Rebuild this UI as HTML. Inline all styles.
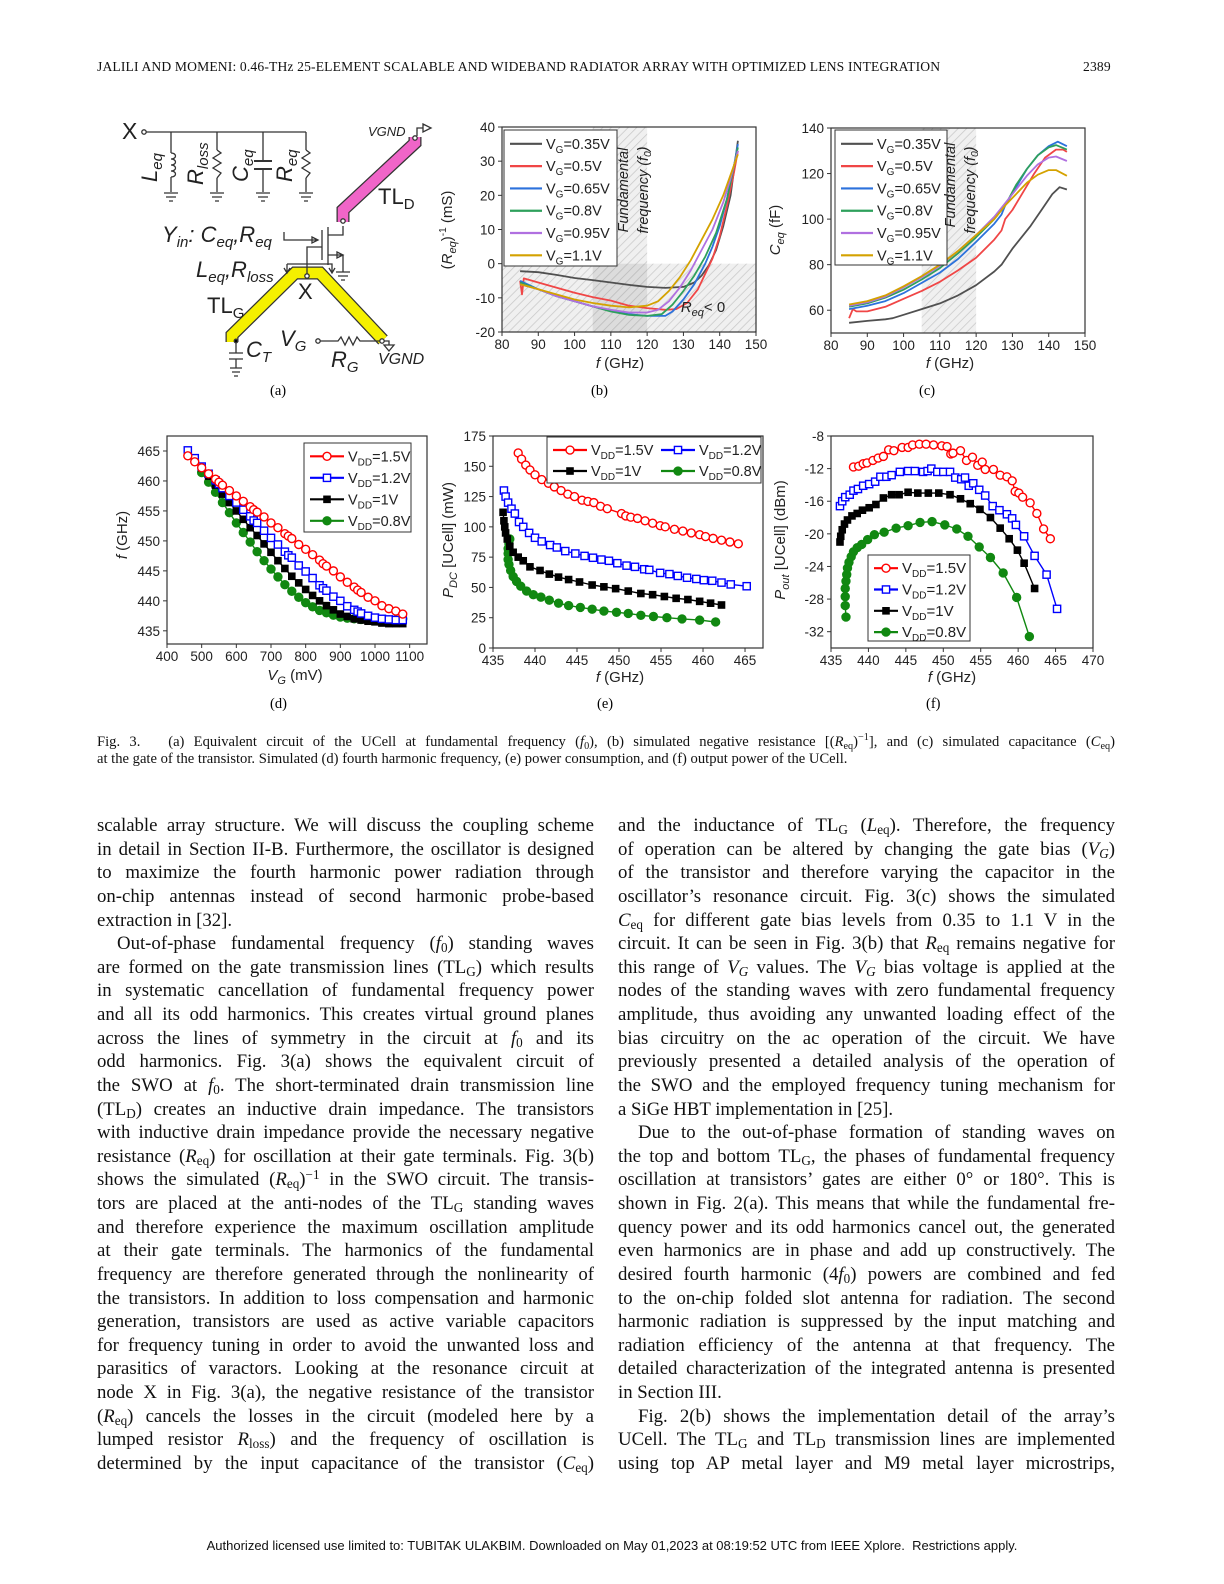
<!DOCTYPE html>
<html><head><meta charset="utf-8">
<style>
body{margin:0;background:#fff;}
#page{position:relative;width:1224px;height:1584px;overflow:hidden;background:#fff;font-family:"Liberation Serif",serif;color:#111;}
.hdr{position:absolute;top:59px;font-size:13.6px;letter-spacing:0.15px;}
.col{position:absolute;width:497px;font-size:18.8px;line-height:23.63px;}
.col div{text-align:justify;text-align-last:justify;height:23.63px;white-space:nowrap;}
.col div.last{text-align-last:left;}
.col div.ind{padding-left:20px;}
.cap{position:absolute;left:97px;width:1018px;font-size:14.6px;line-height:17px;}
.cap div{text-align:justify;text-align-last:justify;white-space:nowrap;}
.cap div.last{text-align-last:left;}
sub{font-size:70%;vertical-align:-3px;line-height:0;}
sup{font-size:70%;vertical-align:6px;line-height:0;}
svg text{font-family:"Liberation Sans",sans-serif;}
</style></head>
<body>
<div id="page">
<div class="hdr" style="left:97px">JALILI AND MOMENI: 0.46-THz 25-ELEMENT SCALABLE AND WIDEBAND RADIATOR ARRAY WITH OPTIMIZED LENS INTEGRATION</div>
<div class="hdr" style="left:1083px">2389</div>

<svg id="fig" width="1224" height="720" style="position:absolute;left:0;top:0">
<defs>
<pattern id="hatch" width="6" height="6" patternUnits="userSpaceOnUse" patternTransform="rotate(45)">
<rect width="6" height="6" fill="#f0f0f0"/><line x1="0" y1="0" x2="0" y2="6" stroke="#c8c8c8" stroke-width="1.5"/></pattern>
<pattern id="hatch2" width="6" height="6" patternUnits="userSpaceOnUse" patternTransform="rotate(45)">
<rect width="6" height="6" fill="#dcdcdc"/><line x1="0" y1="0" x2="0" y2="6" stroke="#b8b8b8" stroke-width="1.5"/></pattern>
</defs>
<g id="circuit" stroke="#333" fill="none" stroke-width="1.3">
<line x1="146" y1="132" x2="306" y2="132"/>
<circle cx="144" cy="132" r="2.2" fill="#fff"/>
<line x1="171" y1="132" x2="171" y2="192"/><line x1="217" y1="132" x2="217" y2="192"/>
<line x1="263" y1="132" x2="263" y2="192"/><line x1="306" y1="132" x2="306" y2="192"/>
<rect x="164" y="153" width="14" height="24" fill="#fff" stroke="none"/>
<path d="M171,153 c6,0 6,6 0,6 c6,0 6,6 0,6 c6,0 6,6 0,6 c6,0 6,6 0,6"/>
<rect x="210" y="150" width="14" height="28" fill="#fff" stroke="none"/>
<polyline points="217,150 221,153 213,158 221,163 213,168 221,173 217,178"/>
<rect x="299" y="150" width="14" height="28" fill="#fff" stroke="none"/>
<polyline points="306,150 310,153 302,158 310,163 302,168 310,173 306,178"/>
<rect x="255" y="160" width="16" height="10" fill="#fff" stroke="none"/>
<line x1="254" y1="161" x2="272" y2="161" stroke-width="2"/><line x1="254" y1="169" x2="272" y2="169" stroke-width="2"/>
<g stroke-width="1.2">
<path d="M164,193h14M166,197h10M169,201h4M210,193h14M212,197h10M215,201h4M256,193h14M258,197h10M261,201h4M299,193h14M301,197h10M304,201h4"/>
</g>
<path d="M343,222 L343,210 L415,143 L415,137" stroke="#333" stroke-width="13" stroke-linejoin="miter"/>
<path d="M343,222 L343,210 L415,143 L415,137" stroke="#f065c8" stroke-width="10.5" stroke-linejoin="miter"/>
<circle cx="343" cy="221" r="2.2" fill="#fff"/><circle cx="415" cy="138" r="2.2" fill="#fff"/>
<path d="M417,136 V128 H423 M423,124 L431,128 L423,132 Z"/>
<path d="M232,342 L232,335 L295,273 L320,273 L383,340" stroke="#333" stroke-width="13" stroke-linejoin="miter"/>
<path d="M232,342 L232,335 L295,273 L320,273 L383,340" stroke="#f5f000" stroke-width="10.5" stroke-linejoin="miter"/>
<circle cx="307" cy="276" r="2.2" fill="#fff"/><circle cx="382" cy="341" r="2.2" fill="#fff"/>
<circle cx="236" cy="341" r="1.8" fill="#000"/>
<path d="M236,342 V353 M229,353h14 M229,359h14 M236,359V368 M230,368h12M232,372h8M234,376h4"/>
<path d="M307,274 V247 H322 M322,230V260 M328,227 V265 M328,235 H343 V226 M328,255 H343 V272 M337,252 l6,3 l-6,3z"/>
<path d="M284,232 V240 H318 M312,237 l6,3 l-6,3z"/>
<path d="M287,264 H332 V272 M287,264 V272 M284,268 l3,5 l3,-5 M329,268 l3,5 l3,-5"/>
<path d="M336,272h14M338,276h10M341,280h4"/>
<circle cx="318" cy="341" r="2.2" fill="#fff"/>
<polyline points="320,341 338,341 341,337 345,345 349,337 353,345 357,337 360,341 380,341"/>
<path d="M384,341 h5 v4 M384,345 h10 l-5,6z"/>
</g>
<g fill="#222" font-size="22">
<text x="122" y="139" font-size="23">X</text>
<text transform="translate(157,182) rotate(-90)" font-style="italic">L<tspan font-size="15" dy="5">eq</tspan></text>
<text transform="translate(203,185) rotate(-90)" font-style="italic">R<tspan font-size="15" dy="5">loss</tspan></text>
<text transform="translate(248,182) rotate(-90)" font-style="italic">C<tspan font-size="15" dy="5">eq</tspan></text>
<text transform="translate(292,182) rotate(-90)" font-style="italic">R<tspan font-size="15" dy="5">eq</tspan></text>
<text x="368" y="136" font-size="13" font-style="italic">VGND</text>
<text x="378" y="204">TL<tspan font-size="15" dy="5">D</tspan></text>
<text x="162" y="242" font-style="italic">Y<tspan font-size="15" dy="5">in</tspan><tspan dy="-5">: C</tspan><tspan font-size="15" dy="5">eq</tspan><tspan dy="-5">,R</tspan><tspan font-size="15" dy="5">eq</tspan></text>
<text x="196" y="277" font-style="italic">L<tspan font-size="15" dy="5">eq</tspan><tspan dy="-5">,R</tspan><tspan font-size="15" dy="5">loss</tspan></text>
<text x="298" y="299">X</text>
<text x="207" y="313">TL<tspan font-size="15" dy="5">G</tspan></text>
<text x="246" y="357" font-style="italic">C<tspan font-size="15" dy="5">T</tspan></text>
<text x="280" y="346" font-style="italic">V<tspan font-size="15" dy="5">G</tspan></text>
<text x="331" y="367" font-style="italic">R<tspan font-size="15" dy="5">G</tspan></text>
<text x="378" y="364" font-size="16" font-style="italic">VGND</text>
</g>
<g font-size="14.5">
<text x="270" y="395" style="font-family:'Liberation Serif',serif">(a)</text>
<text x="591" y="395" style="font-family:'Liberation Serif',serif">(b)</text>
<text x="919" y="395" style="font-family:'Liberation Serif',serif">(c)</text>
<text x="270" y="708" style="font-family:'Liberation Serif',serif">(d)</text>
<text x="597" y="708" style="font-family:'Liberation Serif',serif">(e)</text>
<text x="926" y="708" style="font-family:'Liberation Serif',serif">(f)</text>
</g>
<g id="charts"></g>
</svg>

<div class="cap" style="top:734px">
<div>Fig. 3.&nbsp;&nbsp;&nbsp;(a) Equivalent circuit of the UCell at fundamental frequency (<i>f</i><sub>0</sub>), (b) simulated negative resistance [(<i>R</i><sub>eq</sub>)<sup>−1</sup>], and (c) simulated capacitance (<i>C</i><sub>eq</sub>)</div>
<div class="last">at the gate of the transistor. Simulated (d) fourth harmonic frequency, (e) power consumption, and (f) output power of the UCell.</div>
</div>

<div class="col" style="left:97px;top:814px">
<div>scalable array structure. We will discuss the coupling scheme</div>
<div>in detail in Section II-B. Furthermore, the oscillator is designed</div>
<div>to maximize the fourth harmonic power radiation through</div>
<div>on-chip antennas instead of second harmonic probe-based</div>
<div class="last">extraction in [32].</div>
<div class="ind">Out-of-phase fundamental frequency (<i>f</i><sub>0</sub>) standing waves</div>
<div>are formed on the gate transmission lines (TL<sub>G</sub>) which results</div>
<div>in systematic cancellation of fundamental frequency power</div>
<div>and all its odd harmonics. This creates virtual ground planes</div>
<div>across the lines of symmetry in the circuit at <i>f</i><sub>0</sub> and its</div>
<div>odd harmonics. Fig. 3(a) shows the equivalent circuit of</div>
<div>the SWO at <i>f</i><sub>0</sub>. The short-terminated drain transmission line</div>
<div>(TL<sub>D</sub>) creates an inductive drain impedance. The transistors</div>
<div>with inductive drain impedance provide the necessary negative</div>
<div>resistance (<i>R</i><sub>eq</sub>) for oscillation at their gate terminals. Fig. 3(b)</div>
<div>shows the simulated (<i>R</i><sub>eq</sub>)<sup>−1</sup> in the SWO circuit. The transis-</div>
<div>tors are placed at the anti-nodes of the TL<sub>G</sub> standing waves</div>
<div>and therefore experience the maximum oscillation amplitude</div>
<div>at their gate terminals. The harmonics of the fundamental</div>
<div>frequency are therefore generated through the nonlinearity of</div>
<div>the transistors. In addition to loss compensation and harmonic</div>
<div>generation, transistors are used as active variable capacitors</div>
<div>for frequency tuning in order to avoid the unwanted loss and</div>
<div>parasitics of varactors. Looking at the resonance circuit at</div>
<div>node X in Fig. 3(a), the negative resistance of the transistor</div>
<div>(<i>R</i><sub>eq</sub>) cancels the losses in the circuit (modeled here by a</div>
<div>lumped resistor <i>R</i><sub>loss</sub>) and the frequency of oscillation is</div>
<div>determined by the input capacitance of the transistor (<i>C</i><sub>eq</sub>)</div>
</div>

<div class="col" style="left:618px;top:814px">
<div>and the inductance of TL<sub>G</sub> (<i>L</i><sub>eq</sub>). Therefore, the frequency</div>
<div>of operation can be altered by changing the gate bias (<i>V<sub>G</sub></i>)</div>
<div>of the transistor and therefore varying the capacitor in the</div>
<div>oscillator’s resonance circuit. Fig. 3(c) shows the simulated</div>
<div><i>C</i><sub>eq</sub> for different gate bias levels from 0.35 to 1.1 V in the</div>
<div>circuit. It can be seen in Fig. 3(b) that <i>R</i><sub>eq</sub> remains negative for</div>
<div>this range of <i>V<sub>G</sub></i> values. The <i>V<sub>G</sub></i> bias voltage is applied at the</div>
<div>nodes of the standing waves with zero fundamental frequency</div>
<div>amplitude, thus avoiding any unwanted loading effect of the</div>
<div>bias circuitry on the ac operation of the circuit. We have</div>
<div>previously presented a detailed analysis of the operation of</div>
<div>the SWO and the employed frequency tuning mechanism for</div>
<div class="last">a SiGe HBT implementation in [25].</div>
<div class="ind">Due to the out-of-phase formation of standing waves on</div>
<div>the top and bottom TL<sub>G</sub>, the phases of fundamental frequency</div>
<div>oscillation at transistors’ gates are either 0° or 180°. This is</div>
<div>shown in Fig. 2(a). This means that while the fundamental fre-</div>
<div>quency power and its odd harmonics cancel out, the generated</div>
<div>even harmonics are in phase and add up constructively. The</div>
<div>desired fourth harmonic (4<i>f</i><sub>0</sub>) powers are combined and fed</div>
<div>to the on-chip folded slot antenna for radiation. The second</div>
<div>harmonic radiation is suppressed by the input matching and</div>
<div>radiation efficiency of the antenna at that frequency. The</div>
<div>detailed characterization of the integrated antenna is presented</div>
<div class="last">in Section III.</div>
<div class="ind">Fig. 2(b) shows the implementation detail of the array’s</div>
<div>UCell. The TL<sub>G</sub> and TL<sub>D</sub> transmission lines are implemented</div>
<div>using top AP metal layer and M9 metal layer microstrips,</div>
</div>

<div style="position:absolute;top:1538px;left:0;width:1224px;text-align:center;font-family:'Liberation Sans',sans-serif;font-size:13px;">Authorized licensed use limited to: TUBITAK ULAKBIM. Downloaded on May 01,2023 at 08:19:52 UTC from IEEE Xplore.&nbsp; Restrictions apply.</div>
</div>

<script>
// ---------- data: chart (b) ----------
const bX035=[85,90,95,100,105,110,115,120,125,130,133,135,137,139,141,143,145];
const bY035=[-2.2,-2.5,-3.3,-4.2,-4.8,-5.5,-6.2,-6.8,-7.1,-6.8,-5.5,-3.5,-0.5,4,11,20,36];
const bX050=[85,85.5,86,90,95,100,105,110,115,120,125,128,131,134,136,138,140,142,144,145];
const bY050=[-5,-9,-4.3,-5.5,-7,-8.5,-9.8,-10.8,-12.3,-13,-13.5,-13.3,-11.5,-7.5,-3,1.5,8,17,27,33];
const bX065=[85,90,95,100,105,110,115,120,125,127,130,133,136,138,140,142,144,145];
const bY065=[-5,-7.5,-9.5,-11,-12.5,-13.8,-14.8,-15.3,-15.3,-14,-10.5,-6,0,5,11,19,29,35];
const bX080=[85,90,95,100,105,110,115,120,124,127,130,133,136,139,142,145];
const bY080=[-5.5,-7.5,-9.5,-11,-12.5,-14,-15,-15.3,-14.8,-12,-8,-3.5,2,9,19,34];
const bX095=[85,90,95,100,105,110,115,120,123,126,129,132,135,138,141,143,145];
const bY095=[-6,-7.5,-9.5,-11,-12.5,-13.5,-14.3,-14.3,-13.5,-11,-7,-2,4,10,18,25,33];
const bX110=[85,90,95,100,105,110,115,120,123,126,129,132,135,138,141,143,145];
const bY110=[-6,-7.5,-9,-10.5,-11.5,-12.3,-12.8,-12.3,-11,-8,-4,1,7,13,20,26,32];
const bXTicks=[80,90,100,110,120,130,140,150];
const bYTicks=[-20,-10,0,10,20,30,40];
// ---------- data: chart (c) ----------
const cX035=[85,90,95,97,100,105,110,115,120,125,127,130,135,138,141,143,145];
const cY035=[54.5,55.3,56,56.5,58,60.5,63,66.5,71,77,80,87,97,104,111,114,113];
const cX050=[85,86,87,90,95,100,105,110,115,120,125,127,128,130,133,136,139,142,144,145];
const cY050=[56.5,60.5,59.5,59.5,61.5,65,68.5,72.5,77.5,83,91,95,100,104,112,120,127,130.5,130.5,129.5];
const cX065=[85,90,95,100,105,110,115,120,125,127,128,131,134,137,140,142.5,145];
const cY065=[60.5,62,64,67.5,72,76.5,82.5,90,98,102,106,114,122,128,132,134,132];
const cX080=[85,90,95,100,105,110,115,120,125,128,131,134,137,140,142,145];
const cY080=[61.5,63,65.5,69,73.5,78.5,85,92,100,106,115,122,128,131.5,132.5,130.5];
const cX095=[85,90,95,100,105,110,115,120,125,128,131,134,137,140,142,145];
const cY095=[62,63.5,66,70,74.5,79.5,86,93,101,107,113,119,124,127,127.5,125.5];
const cX110=[85,90,95,100,105,110,115,120,125,128,131,134,137,140,142,145];
const cY110=[62.5,64,66.5,70.5,75,80,86,93,100,106,111,116,119.5,121.5,121.5,119];
const cXTicks=[80,90,100,110,120,130,140,150];
const cYTicks=[60,80,100,120,140];
// ---------- data: chart (d) ----------
const dX15=[460,480,500,520,540,550,560,580,600,620,640,650,660,680,700,720,740,750,760,780,800,820,840,850,860,880,900,920,940,950,960,980,1000,1020,1040,1060,1080];
const dY15=[464.2,463.2,462.2,461.2,460.3,459.8,459.3,458.4,457.5,456.6,455.7,455.2,454.8,454,453,452.2,451.2,450.8,450.4,449.4,448.6,447.7,446.8,446.2,445.8,445,444,443.1,442.3,441.8,441.4,440.6,440,439.2,438.7,438.3,437.8];
const dX12=dX15;
const dY12=[465.1,463.8,462.4,461.2,460.1,459.5,458.8,457.5,456.4,455.2,454.1,453.4,453,451.7,450.5,449.4,448.2,447.6,447.2,445.9,444.9,443.8,442.6,442.1,441.7,440.7,440,439.1,438.5,438.2,437.9,437.5,437.2,437,436.9,436.8,436.8];
const dX10=[500,520,540,560,580,600,620,640,660,680,700,720,740,760,780,800,820,840,860,880,900,920,940,960,980,1000,1020,1040,1060,1080];
const dY10=[462.2,460.8,459.3,457.8,456.4,455,453.6,452.2,450.9,449.5,448.1,446.7,445.4,444.1,443,441.9,440.9,440,439.2,438.5,437.8,437.4,437,436.8,436.6,436.5,436.3,436.2,436.2,436.2];
const dX08=dX10;
const dY08=[461.4,459.8,458.1,456.4,454.7,453,451.4,449.8,448.2,446.7,445.3,444,442.7,441.6,440.6,439.7,439,438.4,438,437.6,437.3,437.1,437,436.9,436.8,436.7,436.7,436.7,436.8,437];
const dXTicks=[400,500,600,700,800,900,1000,1100];
const dYTicks=[435,440,445,450,455,460,465];
// ---------- data: chart (e) ----------
const eX15=[438,438.4,438.9,439.4,440,440.8,441.6,442.3,443.1,443.9,444.7,445.6,446.3,447,447.8,448.6,450.3,450.8,451.4,452.2,453.1,454,454.9,455.5,456.6,457.6,458.6,459.6,460.3,461.2,462.2,463.2,464.2];
const eY15=[161,156,151,147,143,139,136,133,130,127,125,122,121,120,117,115,111,109,108,107,105,103,101,100,98,96.5,95,93.5,92,90.5,89,87.5,86];
const eX12=[436.3,436.5,436.8,437.2,437.6,438.1,438.6,439.3,440,440.8,441.8,442.6,443.6,444.8,445.9,446.9,447.9,448.8,449.8,450.9,451.9,453,453.6,454.9,456,457,458.1,459.2,460.1,461.1,462.2,463.3,465.2];
const eY12=[130,125,120,115,111,104,100,95,91,88,85,83,80,78,76,74.5,73,72,70,68,67,65,64.5,62,61,59.5,58,57,56,55.5,54,52.5,51];
const eX10=[436.2,436.3,436.4,436.5,436.7,437,437.4,438,438.6,439.4,440.6,441.7,442.8,444,445.3,446.8,448.2,449.6,451.1,452.6,454,455.4,456.8,458.2,459.6,460.9,462.2];
const eY10=[112,105,100,95,90,84,79,75,72,67,64,61,58.5,56.5,54.5,52,50.5,49,47,45,44,42.5,41,40,38.5,37,35.5];
const eX08=[437,436.9,436.8,436.8,436.8,436.9,437.1,437.4,437.8,438.3,439,439.8,440.7,441.7,442.8,444,445.4,446.8,448.2,449.7,451.1,452.6,454.1,455.7,457.5,459.6,461.5];
const eY08=[90,86,82,78,73,69,64,59,55,51,47,44,42,39.5,37,35,33.5,32,30.5,29.5,28.5,27,26,25,24,23,21.5];
const eXTicks=[435,440,445,450,455,460,465];
const eYTicks=[0,25,50,75,100,125,150,175];
// ---------- data: chart (f) ----------
const fX15=[438,438.7,439.3,439.8,440.6,441.3,442,442.7,443.4,444.5,445.3,445.9,446.8,447.7,448.7,449.8,450.5,451,451.3,452.3,453.1,453.9,454.6,455.2,455.6,456.7,457.6,458.5,459.2,459.6,460.1,460.6,461.6,462.5,463.4,464.3];
const fY15=[-11.8,-11.7,-11.4,-11.3,-11,-10.7,-10.5,-9.7,-9.8,-9.4,-9.4,-9.1,-9,-9,-9.1,-9.2,-9.3,-10.2,-10.1,-9.8,-11,-10.6,-11.6,-11.2,-12.1,-12.1,-12.8,-13,-13.5,-14.8,-15,-15.5,-16.2,-17.5,-19.4,-20.6];
const fX12=[436.2,436.5,436.9,437.5,438,438.6,439.3,440.1,440.9,441.6,442.4,443.1,444.2,445.3,446.2,447.3,447.9,448.4,449.2,450,450.9,451.6,452.4,452.9,453.4,454,454.8,455.6,456.6,457.5,458.5,459.2,459.7,460.8,462.2,463.8,465.2];
const fY12=[-16.6,-16,-15.5,-15.2,-14.7,-14.5,-14.1,-13.9,-13.6,-13,-13,-12.8,-12.4,-12.3,-12.3,-12.4,-12.3,-12,-12.4,-12.4,-12.4,-13.1,-13.3,-13.1,-14.1,-13.8,-14.6,-15.3,-16.6,-17.1,-17.6,-18.1,-18.9,-20.3,-22.7,-25,-29.2];
const fX10=[436.2,436.3,436.5,436.8,437.2,437.8,438.5,439.2,440.1,441,442,443.1,444.1,445.3,446.6,448,449.4,450.9,452.3,453.6,454.9,456.3,457.6,458.8,459.9,460.8,462.2];
const fY10=[-21,-20.3,-19.5,-18.8,-18.3,-17.8,-17.5,-17.1,-16.8,-16.4,-15.6,-15.2,-15.2,-14.9,-15,-15,-15,-15.2,-15.7,-16.3,-17,-18,-19.3,-20.6,-22,-23.6,-26.7];
const fX08=[437,436.9,436.9,436.9,437,437.1,437.2,437.4,437.7,438,438.5,439.1,439.9,440.8,442.1,443.7,445.3,446.9,448.5,450.2,451.8,453.3,454.8,456.3,458,459.8,461.5];
const fY08=[-30.2,-28.8,-27.7,-26.7,-25.8,-25,-24.2,-23.5,-22.8,-22.2,-21.7,-21.3,-20.7,-20.1,-19.8,-19.3,-19,-18.6,-18.5,-18.9,-19.4,-20.3,-21.6,-22.9,-24.8,-27.8,-32.6];
const fXTicks=[435,440,445,450,455,460,465,470];
const fYTicks=[-32,-28,-24,-20,-16,-12,-8];

const NS='http://www.w3.org/2000/svg';
const root=document.getElementById('charts');
function mk(tag,attrs,parent){const e=document.createElementNS(NS,tag);for(const k in attrs)e.setAttribute(k,attrs[k]);(parent||root).appendChild(e);return e;}

function makeChart(o){
  const g=mk('g',{});
  
  
  const sx=v=>o.px0+(v-o.xmin)/(o.xmax-o.xmin)*(o.px1-o.px0);
  const sy=v=>o.py1-(v-o.ymin)/(o.ymax-o.ymin)*(o.py1-o.py0);
  o.sx=sx;o.sy=sy;o.g=g;
  if(o.bg)o.bg(o);
  mk('rect',{x:o.px0,y:o.py0,width:o.px1-o.px0,height:o.py1-o.py0,fill:'none',stroke:'#333','stroke-width':1.2},g);
  o.xticks.forEach(t=>{const x=sx(t);
    mk('line',{x1:x,y1:o.py1,x2:x,y2:o.py1+4,stroke:'#333'},g);
    const tx=mk('text',{x:x,y:o.py1+17,'font-size':13.5,'text-anchor':'middle',fill:'#222'},g);
    
    
    tx.textContent=t;});
  o.yticks.forEach(t=>{const y=sy(t);
    mk('line',{x1:o.px0-4,y1:y,x2:o.px0,y2:y,stroke:'#333'},g);
    const ty=mk('text',{x:o.px0-7,y:y+5,'font-size':13.5,'text-anchor':'end',fill:'#222'},g);
    
    
    ty.textContent=t;});
  return o;
}
function series(o,xs,ys,color,marker,w,name){
  const pts=xs.map((x,i)=>o.sx(x).toFixed(1)+','+o.sy(ys[i]).toFixed(1)).join(' ');
  const pl=mk('polyline',{points:pts,fill:'none',stroke:color,'stroke-width':w||2,'stroke-linejoin':'round'},o.g);
  
  
  if(marker){xs.forEach((x,i)=>{drawMarker(o.g,o.sx(x),o.sy(ys[i]),color,marker);});}
}
function drawMarker(g,x,y,c,m){
  let e;
  if(m==='oc')e=mk('circle',{cx:x,cy:y,r:4,fill:'#fff',stroke:c,'stroke-width':1.4},g);
  else if(m==='fc')e=mk('circle',{cx:x,cy:y,r:4.2,fill:c,stroke:c},g);
  else if(m==='os')e=mk('rect',{x:x-3.6,y:y-3.6,width:7.2,height:7.2,fill:'#fff',stroke:c,'stroke-width':1.4},g);
  else e=mk('rect',{x:x-3.8,y:y-3.8,width:7.6,height:7.6,fill:c},g);
  
  
}
function label(o,x,y,html,rot,size){
  const t=mk('text',{x:0,y:0,'font-size':size||15,'text-anchor':'middle',fill:'#222',transform:`translate(${x},${y})`+(rot?' rotate(-90)':'')},o.g||root);
  t.innerHTML=html;
  
  
  return t;
}
function legend(o,x,y,w,h,items,rowH,colW){
  const lg=mk('g',{},o.g);
  
  
  mk('rect',{x:x,y:y,width:w,height:h,fill:'#fff',stroke:'#333','stroke-width':1},lg);
  items.forEach((it,i)=>{
    const col=it.col||0,row=it.row!==undefined?it.row:i;
    const lx=x+6+col*(colW||0),ly=y+rowH*0.62+row*rowH;
    mk('line',{x1:lx,y1:ly,x2:lx+it.len,y2:ly,stroke:it.c,'stroke-width':it.w||2.2},lg);
    if(it.m)drawMarker(lg,lx+it.len/2,ly,it.c,it.m);
    const t=mk('text',{x:lx+it.len+4,y:ly+5,'font-size':it.fs||14.5,fill:'#222'},lg);
    
    
    t.innerHTML=it.t;
  });
}
const C6={g:'#505050',r:'#f04646',b:'#2c72dc',gr:'#2ea05c',p:'#b070e0',y:'#d4a200'};
const vg=v=>`V<tspan font-size="10" dy="4">G</tspan><tspan dy="-4">=${v}V</tspan>`;
const vdd=v=>`V<tspan font-size="10" dy="4">DD</tspan><tspan dy="-4">=${v}V</tspan>`;

const B=makeChart({name:'chart-b-inverse-resistance',px0:502,px1:756,py0:127,py1:332,xmin:80,xmax:150,ymin:-20,ymax:40,xticks:bXTicks,yticks:bYTicks,
 bg:o=>{const x0=o.sx(80),x1=o.sx(150),y0=o.sy(0),y1=o.sy(-20),f0=o.sx(105),f1=o.sx(120),t=o.sy(40);
  mk('rect',{x:x0,y:y0,width:x1-x0,height:y1-y0,fill:'url(#hatch)'},o.g);
  mk('rect',{x:f0,y:t,width:f1-f0,height:y0-t,fill:'url(#hatch)'},o.g);
  mk('rect',{x:f0,y:y0,width:f1-f0,height:y1-y0,fill:'url(#hatch2)'},o.g);}});
series(B,bX035,bY035,C6.g,null,1.8,'series-vg-0.35');
series(B,bX050,bY050,C6.r,null,1.8,'series-vg-0.5');
series(B,bX065,bY065,C6.b,null,1.8,'series-vg-0.65');
series(B,bX080,bY080,C6.gr,null,1.8,'series-vg-0.8');
series(B,bX095,bY095,C6.p,null,1.8,'series-vg-0.95');
series(B,bX110,bY110,C6.y,null,1.8,'series-vg-1.1');
legend(B,504,130,113,136,[{t:vg('0.35'),c:C6.g,len:32},{t:vg('0.5'),c:C6.r,len:32},{t:vg('0.65'),c:C6.b,len:32},{t:vg('0.8'),c:C6.gr,len:32},{t:vg('0.95'),c:C6.p,len:32},{t:vg('1.1'),c:C6.y,len:32}],22.3);
label(B,452,230,'(<tspan font-style="italic">R</tspan><tspan font-size="11" dy="4" font-style="italic">eq</tspan><tspan dy="-4">)</tspan><tspan font-size="10" dy="-6">-1</tspan><tspan dy="6"> (mS)</tspan>',true,15);
label(B,620,368,'<tspan font-style="italic">f</tspan> (GHz)',false,15);
label(B,628,190,'Fundamental',true,14.5).setAttribute('font-style','italic');
label(B,648,190,'frequency (f<tspan font-size="10" dy="3">0</tspan><tspan dy="-3">)</tspan>',true,14.5).setAttribute('font-style','italic');
label(B,703,312,'<tspan font-style="italic">R</tspan><tspan font-size="11" dy="4" font-style="italic">eq</tspan><tspan dy="-4">&lt; 0</tspan>',false,15);

const Cc=makeChart({name:'chart-c-capacitance',px0:831,px1:1085,py0:128,py1:333,xmin:80,xmax:150,ymin:50,ymax:140,xticks:cXTicks,yticks:cYTicks,
 bg:o=>{const f0=o.sx(105),f1=o.sx(120);mk('rect',{x:f0,y:o.py0,width:f1-f0,height:o.py1-o.py0,fill:'url(#hatch)'},o.g);}});
series(Cc,cX035,cY035,C6.g,null,1.8,'series-vg-0.35');
series(Cc,cX050,cY050,C6.r,null,1.8,'series-vg-0.5');
series(Cc,cX065,cY065,C6.b,null,1.8,'series-vg-0.65');
series(Cc,cX080,cY080,C6.gr,null,1.8,'series-vg-0.8');
series(Cc,cX095,cY095,C6.p,null,1.8,'series-vg-0.95');
series(Cc,cX110,cY110,C6.y,null,1.8,'series-vg-1.1');
legend(Cc,835,130,112,135,[{t:vg('0.35'),c:C6.g,len:32},{t:vg('0.5'),c:C6.r,len:32},{t:vg('0.65'),c:C6.b,len:32},{t:vg('0.8'),c:C6.gr,len:32},{t:vg('0.95'),c:C6.p,len:32},{t:vg('1.1'),c:C6.y,len:32}],22.3);
label(Cc,780,230,'<tspan font-style="italic">C</tspan><tspan font-size="11" dy="4" font-style="italic">eq</tspan><tspan dy="-4"> (fF)</tspan>',true,15);
label(Cc,950,368,'<tspan font-style="italic">f</tspan> (GHz)',false,15);
label(Cc,955,185,'Fundamental',true,14.5).setAttribute('font-style','italic');
label(Cc,975,190,'frequency (f<tspan font-size="10" dy="3">0</tspan><tspan dy="-3">)</tspan>',true,14.5).setAttribute('font-style','italic');

const D=makeChart({name:'chart-d-harmonic-frequency',px0:167,px1:427,py0:436,py1:644,xmin:400,xmax:1150,ymin:432.8,ymax:467.5,xticks:dXTicks,yticks:dYTicks});
series(D,dX08,dY08,'#118811','fc',1.4,'series-vdd-0.8');
series(D,dX10,dY10,'#000','fs',1.4,'series-vdd-1');
series(D,dX12,dY12,'#0000ff','os',1.4,'series-vdd-1.2');
series(D,dX15,dY15,'#ff0000','oc',1.4,'series-vdd-1.5');
legend(D,304,443,107,89,[{t:vdd('1.5'),c:'#ff0000',m:'oc',len:34},{t:vdd('1.2'),c:'#0000ff',m:'os',len:34},{t:vdd('1'),c:'#000',m:'fs',len:34},{t:vdd('0.8'),c:'#118811',m:'fc',len:34}],21.5);
label(D,127,535,'<tspan font-style="italic">f</tspan> (GHz)',true,15);
label(D,295,680,'<tspan font-style="italic">V</tspan><tspan font-size="11" dy="4" font-style="italic">G</tspan><tspan dy="-4"> (mV)</tspan>',false,15);

const E=makeChart({name:'chart-e-power-consumption',px0:493,px1:763,py0:436,py1:648,xmin:435,xmax:467.14,ymin:0,ymax:175,xticks:eXTicks,yticks:eYTicks});
series(E,eX08,eY08,'#118811','fc',1.4,'series-vdd-0.8');
series(E,eX10,eY10,'#000','fs',1.4,'series-vdd-1');
series(E,eX12,eY12,'#0000ff','os',1.4,'series-vdd-1.2');
series(E,eX15,eY15,'#ff0000','oc',1.4,'series-vdd-1.5');
legend(E,547,437,214,46,[{t:vdd('1.5'),c:'#ff0000',m:'oc',len:34,row:0,col:0},{t:vdd('1.2'),c:'#0000ff',m:'os',len:34,row:0,col:1},{t:vdd('1'),c:'#000',m:'fs',len:34,row:1,col:0},{t:vdd('0.8'),c:'#118811',m:'fc',len:34,row:1,col:1}],21,108);
label(E,453,540,'<tspan font-style="italic">P</tspan><tspan font-size="11" dy="4" font-style="italic">DC</tspan><tspan dy="-4"> [UCell] (mW)</tspan>',true,15);
label(E,620,682,'<tspan font-style="italic">f</tspan> (GHz)',false,15);

const F=makeChart({name:'chart-f-output-power',px0:831,px1:1093,py0:436,py1:648,xmin:435,xmax:470,ymin:-34,ymax:-8,xticks:fXTicks,yticks:fYTicks});
series(F,fX08,fY08,'#118811','fc',1.4,'series-vdd-0.8');
series(F,fX10,fY10,'#000','fs',1.4,'series-vdd-1');
series(F,fX12,fY12,'#0000ff','os',1.4,'series-vdd-1.2');
series(F,fX15,fY15,'#ff0000','oc',1.4,'series-vdd-1.5');
legend(F,868,555,102,86,[{t:vdd('1.5'),c:'#ff0000',m:'oc',len:24,fs:15},{t:vdd('1.2'),c:'#0000ff',m:'os',len:24,fs:15},{t:vdd('1'),c:'#000',m:'fs',len:24,fs:15},{t:vdd('0.8'),c:'#118811',m:'fc',len:24,fs:15}],21.3);
label(F,785,540,'<tspan font-style="italic">P</tspan><tspan font-size="11" dy="4" font-style="italic">out</tspan><tspan dy="-4"> [UCell] (dBm)</tspan>',true,15);
label(F,952,682,'<tspan font-style="italic">f</tspan> (GHz)',false,15);
</script>
</body></html>
